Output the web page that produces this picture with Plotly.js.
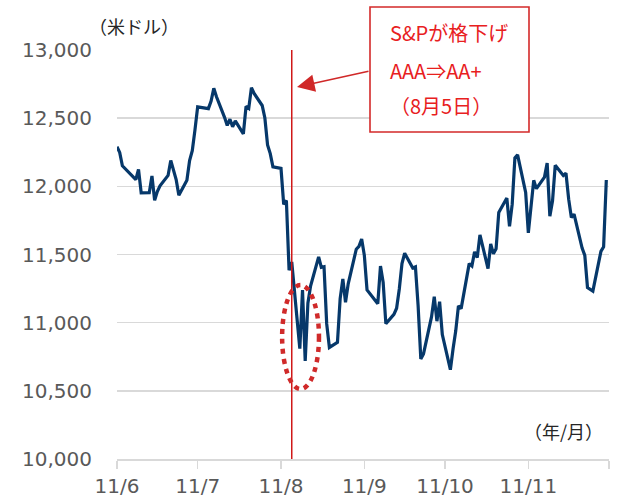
<!DOCTYPE html>
<html>
<head>
<meta charset="utf-8">
<script src="https://cdn.plot.ly/plotly-3.0.1.min.js"></script>
<style>html,body{margin:0;padding:0;background:#fff}#chart{width:618px;height:499px}</style>
</head>
<body>
<div id="chart"></div>
<script>
// Trading dates (June - November 2011)
const dates = [
 '2011-06-01','2011-06-02','2011-06-03','2011-06-06','2011-06-07','2011-06-08','2011-06-09','2011-06-10',
 '2011-06-13','2011-06-14','2011-06-15','2011-06-16','2011-06-17','2011-06-20','2011-06-21','2011-06-22',
 '2011-06-23','2011-06-24','2011-06-27','2011-06-28','2011-06-29','2011-06-30',
 '2011-07-01','2011-07-05','2011-07-06','2011-07-07','2011-07-08','2011-07-11','2011-07-12','2011-07-13',
 '2011-07-14','2011-07-15','2011-07-18','2011-07-19','2011-07-20','2011-07-21','2011-07-22','2011-07-25',
 '2011-07-26','2011-07-27','2011-07-28','2011-07-29',
 '2011-08-01','2011-08-02','2011-08-03','2011-08-04','2011-08-05','2011-08-08','2011-08-09','2011-08-10',
 '2011-08-11','2011-08-12','2011-08-15','2011-08-16','2011-08-17','2011-08-18','2011-08-19','2011-08-22',
 '2011-08-23','2011-08-24','2011-08-25','2011-08-26','2011-08-29','2011-08-30','2011-08-31',
 '2011-09-01','2011-09-02','2011-09-06','2011-09-07','2011-09-08','2011-09-09','2011-09-12','2011-09-13',
 '2011-09-14','2011-09-15','2011-09-16','2011-09-19','2011-09-20','2011-09-21','2011-09-22','2011-09-23',
 '2011-09-26','2011-09-27','2011-09-28','2011-09-29','2011-09-30',
 '2011-10-03','2011-10-04','2011-10-05','2011-10-06','2011-10-07','2011-10-10','2011-10-11','2011-10-12',
 '2011-10-13','2011-10-14','2011-10-17','2011-10-18','2011-10-19','2011-10-20','2011-10-21','2011-10-24',
 '2011-10-25','2011-10-26','2011-10-27','2011-10-28','2011-10-31',
 '2011-11-01','2011-11-02','2011-11-03','2011-11-04','2011-11-07','2011-11-08','2011-11-09','2011-11-10',
 '2011-11-11','2011-11-14','2011-11-15','2011-11-16','2011-11-17','2011-11-18','2011-11-21','2011-11-22',
 '2011-11-23','2011-11-25','2011-11-28','2011-11-29','2011-11-30'
];
// Index level (US dollars)
const values = [
 12290,12249,12151,12090,12071,12049,12124,11952,
 11953,12076,11897,11962,12004,12080,12190,12110,
 12050,11935,12044,12189,12261,12414,
 12583,12570,12626,12719,12657,12506,12447,12492,
 12437,12480,12385,12587,12572,12724,12681,12593,
 12501,12303,12240,12143,
 12132,11867,11896,11384,11445,10810,11240,10720,
 11143,11269,11483,11406,11410,10991,10818,10855,
 11177,11321,11150,11285,11539,11560,11614,
 11494,11240,11139,11415,11296,10992,11061,11106,
 11247,11433,11509,11401,11409,11125,10734,10771,
 11044,11191,11011,11154,10913,
 10655,10809,10940,11123,11103,11433,11416,11519,
 11478,11644,11397,11577,11505,11542,11809,11914,
 11707,11869,12209,12231,11955,
 11658,11836,12044,11983,12068,12170,11781,11894,
 12154,12079,12096,11906,11771,11796,11547,11494,
 11258,11232,11523,11556,12046
];
const tickDates = ['2011-06-01','2011-07-01','2011-08-01','2011-09-01','2011-10-01','2011-11-01','2011-12-01'];
const tickLabels = ['11/6','11/7','11/8','11/9','11/10','11/11',''];
const eventDate = '2011-08-05';
const noteLines = ['S&Pが格下げ','AAA⇒AA+','（8月5日）'];
const yUnit = '（米ドル）';
const xUnit = '（年/月）';

const W = 618, H = 499, L = 117, R = 609, T = 50, B = 459;
const px = x => (x - L) / (R - L);
const py = y => (B - y) / (B - T);
const red = '#e8201e';
const jp = '"Noto Sans CJK JP", "Noto Sans", sans-serif';

const annotations = [
  {text: yUnit, xref:'paper', yref:'paper', x: px(134), y: py(26), xanchor:'center', yanchor:'middle',
   showarrow:false, font:{family: jp, size:18, color:'#262626'}},
  {text: xUnit, xref:'paper', yref:'paper', x: px(563), y: py(431), xanchor:'center', yanchor:'middle',
   showarrow:false, font:{family: jp, size:18, color:'#262626'}},
  {text: '', xref:'paper', yref:'paper', x: px(297), y: py(87), ax: 73, ay: -16, axref:'pixel', ayref:'pixel',
   showarrow:true, arrowhead:2, arrowsize:2.2, arrowwidth:1.6, arrowcolor:'#d02828'}
];
const lineY = [33, 70, 106];
noteLines.forEach((t, i) => annotations.push({
  text: t, xref:'paper', yref:'paper', x: px(388), y: py(lineY[i]), xanchor:'left', yanchor:'middle',
  showarrow:false, font:{family: jp, size:20, color: red}
}));

const shapes = [
  {type:'line', xref:'x', yref:'y', x0: eventDate, x1: eventDate, y0: 10000, y1: 13000,
   line:{color:'#d01818', width:1.5}},
  {type:'rect', xref:'paper', yref:'paper', x0: px(370), x1: px(529), y0: py(132), y1: py(7),
   line:{color:'#d42a2a', width:1.6}, fillcolor:'rgba(255,255,255,1)', layer:'above'},
  {type:'circle', xref:'x', yref:'y', x0:'2011-08-01 10:00', x1:'2011-08-15 03:00', y0:10513, y1:11276,
   line:{color:'#d02a2a', width:4.5, dash:'5px,5px'}}
];

Plotly.newPlot('chart', [{
  x: dates, y: values, type:'scatter', mode:'lines',
  line:{color:'#06386a', width:3.2}, hoverinfo:'skip'
}], {
  width: W, height: H,
  margin:{l:L, r:W-R, t:T, b:H-B, pad:0},
  paper_bgcolor:'#fff', plot_bgcolor:'#fff',
  showlegend:false,
  font:{family:'"DejaVu Sans", Verdana, sans-serif', size:20, color:'#595959'},
  xaxis:{type:'date', range:['2011-06-01','2011-12-01'], tickmode:'array', tickvals: tickDates, ticktext: tickLabels,
    ticks:'outside', ticklen:8, tickwidth:1.5, tickcolor:'#d9d9d9', showline:true, linecolor:'#d9d9d9', linewidth:1.5,
    showgrid:false, zeroline:false, fixedrange:true},
  yaxis:{range:[10000,13000], dtick:500, tick0:10000, tickformat:',', showgrid:true, gridcolor:'#d9d9d9', gridwidth:1.5,
    zeroline:false, showline:false, ticks:'', ticklabelstandoff:24, fixedrange:true},
  annotations, shapes
}, {staticPlot:true, displayModeBar:false});
</script>
</body>
</html>
